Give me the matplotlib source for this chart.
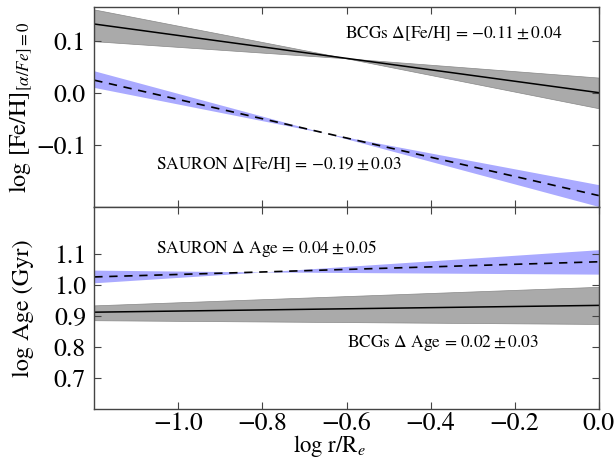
import matplotlib
matplotlib.use('Agg')
from matplotlib import pyplot as plt

plt.rcParams['font.family'] = 'STIXGeneral'
plt.rcParams['mathtext.fontset'] = 'stix'

# values (x = log r/Re)
x_fe_bcg = [-1.2, -0.6, 0.0]
fe_bcg = [0.132, 0.066, 0.0]
fe_bcg_hi = [0.160, 0.066, 0.029]
fe_bcg_lo = [0.099, 0.066, -0.030]

x_fe_sauron = [-1.2, -0.65, 0.0]
fe_sauron = [0.024, -0.078, -0.198]
fe_sauron_hi = [0.042, -0.078, -0.177]
fe_sauron_lo = [0.010, -0.078, -0.219]

x_age_sauron = [-1.2, -0.8, 0.0]
age_sauron = [1.027, 1.043, 1.076]
age_sauron_hi = [1.049, 1.043, 1.115]
age_sauron_lo = [1.008, 1.043, 1.036]

x_age_bcg = [-1.2, 0.0]
age_bcg = [0.913, 0.935]
age_bcg_hi = [0.935, 0.995]
age_bcg_lo = [0.887, 0.875]

fe_ticks = [-0.1, 0.0, 0.1]
age_ticks = [0.7, 0.8, 0.9, 1.0, 1.1]
x_ticks = [-1.0, -0.8, -0.6, -0.4, -0.2, 0.0]

gray_band = '#aaaaaa'
blue_band = '#aaaaff'

fig = plt.figure(figsize=(6.16, 4.58), dpi=100)
ax1 = fig.add_axes([0.153, 0.548, 0.819, 0.437])
ax2 = fig.add_axes([0.153, 0.107, 0.819, 0.441], sharex=ax1)

# top: metallicity gradients
ax1.fill_between(x_fe_bcg, fe_bcg_lo, fe_bcg_hi, color=gray_band, lw=0.5, edgecolor='#888888')
ax1.plot(x_fe_bcg, fe_bcg, color='black', lw=1.1)
ax1.fill_between(x_fe_sauron, fe_sauron_lo, fe_sauron_hi, color=blue_band, lw=0)
ax1.plot(x_fe_sauron, fe_sauron, color='black', lw=1.2, ls='--', dashes=(5, 4))
ax1.text(-0.344, 0.113, r'BCGs $\Delta$[Fe/H] = $-0.11 \pm 0.04$', ha='center', va='center', fontsize=12.5)
ax1.text(-0.761, -0.138, r'SAURON $\Delta$[Fe/H] = $-0.19 \pm 0.03$', ha='center', va='center', fontsize=12.5)
ax1.set_ylim(-0.22, 0.165)
ax1.set_yticks(fe_ticks)
ax1.set_ylabel(r'log [Fe/H]$_{[\alpha/Fe]=0}$', fontsize=17.5)
ax1.tick_params(labelbottom=False)

# bottom: age gradients
ax2.fill_between(x_age_bcg, age_bcg_lo, age_bcg_hi, color=gray_band, lw=0.5, edgecolor='#888888')
ax2.plot(x_age_bcg, age_bcg, color='black', lw=1.1)
ax2.fill_between(x_age_sauron, age_sauron_lo, age_sauron_hi, color=blue_band, lw=0)
ax2.plot(x_age_sauron, age_sauron, color='black', lw=1.2, ls='--', dashes=(5, 4))
ax2.text(-0.79, 1.118, r'SAURON $\Delta$ Age = $0.04 \pm 0.05$', ha='center', va='center', fontsize=12.5)
ax2.text(-0.371, 0.813, r'BCGs $\Delta$ Age = $0.02 \pm 0.03$', ha='center', va='center', fontsize=12.5)
ax2.set_ylim(0.6, 1.253)
ax2.set_yticks(age_ticks)
ax2.set_ylabel('log Age (Gyr)', fontsize=17.5)
ax2.set_xlim(-1.2, 0.0)
ax2.set_xticks(x_ticks)
ax2.set_xlabel(r'log r/R$_e$', fontsize=16.5)

for ax in (ax1, ax2):
    ax.tick_params(direction='in', top=True, right=True, length=5, width=0.8,
                   labelsize=18.5, pad=6, color='#444444')
    for sp in ax.spines.values():
        sp.set_color('#444444')
        sp.set_linewidth(1.0)
    ax.yaxis.set_label_coords(-0.12, 0.5)
ax2.tick_params(axis='x', pad=2)
ax2.xaxis.set_label_coords(0.467, -0.118)

fig.savefig('out.png', dpi=100)
